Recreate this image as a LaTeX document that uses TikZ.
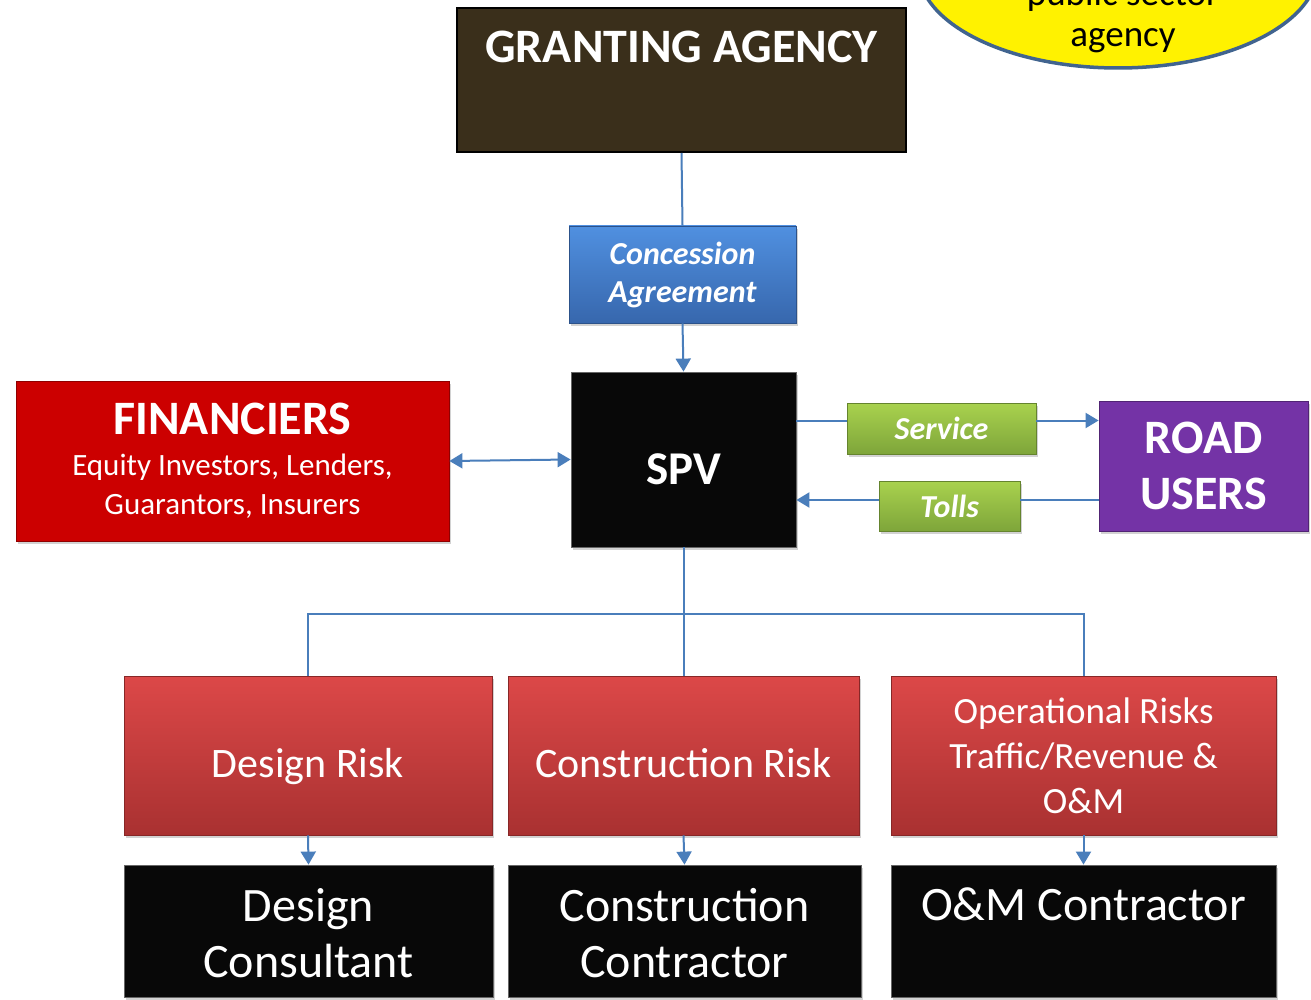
\documentclass[tikz,border=0pt]{standalone}
\usepackage{fontspec}
\setmainfont{Carlito}
\usetikzlibrary{shapes.geometric,arrows.meta,shadows}
\definecolor{gaFill}{HTML}{3A2F1B}
\definecolor{lineBlue}{HTML}{4A7EBB}
\definecolor{caTop}{HTML}{5090E0}
\definecolor{caBot}{HTML}{3767AD}
\definecolor{finRed}{HTML}{CC0000}
\definecolor{ruPurple}{HTML}{7433A6}
\definecolor{grTop}{HTML}{A9D24E}
\definecolor{grBot}{HTML}{7EA53A}
\definecolor{rkTop}{HTML}{DC4848}
\definecolor{rkBot}{HTML}{A93131}
\definecolor{elBorder}{HTML}{41648F}
\tikzset{
  box/.style={rectangle, inner sep=0pt, text=white, align=center,
    drop shadow={opacity=0.35, shadow xshift=2pt, shadow yshift=-3pt}},
  blackbox/.style={box, fill=black!97, draw=black!60, line width=0.8pt},
  riskbox/.style={box, top color=rkTop, bottom color=rkBot, draw=rkBot!80!black, line width=0.6pt,
    font=\fontsize{42}{45}\selectfont},
  greenbox/.style={box, top color=grTop, bottom color=grBot, draw=grBot!80!black, line width=0.6pt,
    font=\fontsize{32}{36}\selectfont\bfseries\itshape},
  conn/.style={draw=lineBlue, line width=2pt},
  arr/.style={conn, -{Triangle[width=15pt,length=13pt]}},
  darr/.style={conn, {Triangle[width=15pt,length=13pt]}-{Triangle[width=15pt,length=13pt]}},
  ctext/.style={font=\fontsize{48}{56}\selectfont}
}
\begin{document}
\begin{tikzpicture}[x=1pt,y=-1pt]
\clip (0,0) rectangle (1311,1000);
\fill[white] (0,0) rectangle (1311,1000);
% public sector ellipse
\node[ellipse, draw=elBorder, line width=3.5pt, fill=yellow, minimum width=400pt, minimum height=200pt] (ps) at (1118,-32) {};
\node[align=center, font=\fontsize{37}{41}\selectfont] (pstext) at (1123,16) {public sector\\agency};
% granting agency
\node[rectangle, fill=gaFill, draw=black, line width=2pt, minimum width=449pt, minimum height=144pt,
  label={[anchor=north, text=white, font=\fontsize{48}{52}\selectfont\bfseries, yshift=-20pt]north:GRANTING AGENCY}] (ga) at (681.5,80) {};
% concession agreement
\node[box, top color=caTop, bottom color=caBot, draw=caBot!80!black, line width=0.6pt,
  minimum width=227pt, minimum height=97pt, font=\fontsize{32}{38}\selectfont\bfseries\itshape] (ca) at (682.5,274.5) {Concession\\Agreement};
% SPV
\node[blackbox, minimum width=225pt, minimum height=175pt, text height=50pt, text depth=0pt,
  font=\fontsize{47}{50}\selectfont\bfseries] (spv) at (683.5,459.5) {SPV};
% financiers
\node[box, fill=finRed, draw=finRed!70!black, line width=0.8pt, minimum width=433pt, minimum height=160pt,
  font=\fontsize{31}{39}\selectfont] (fin) at (232.5,461)
  {{\fontsize{48}{48}\selectfont\bfseries FINANCIERS}\\[2pt]Equity Investors, Lenders,\\Guarantors, Insurers};
% service / tolls
\node[greenbox, minimum width=189pt, minimum height=51pt] (svc) at (941.5,428.5) {Service};
\node[greenbox, minimum width=141pt, minimum height=50pt] (tolls) at (949.5,506) {Tolls};
% road users
\node[box, fill=ruPurple, draw=ruPurple!70!black, line width=0.8pt, minimum width=209pt, minimum height=130pt,
  font=\fontsize{48}{56}\selectfont\bfseries, text depth=0pt] (ru) at (1203.5,466) {ROAD\\USERS};
% risks
\node[riskbox, minimum width=368pt, minimum height=159pt, text height=54pt, text depth=10pt] (dr) at (308,755.5) {Design Risk};
\node[riskbox, minimum width=351pt, minimum height=159pt, text height=54pt, text depth=10pt] (cr) at (683.5,755.5) {Construction Risk};
\node[riskbox, minimum width=385pt, minimum height=159pt, font=\fontsize{37}{45}\selectfont] (or) at (1083.5,755.5) {Operational Risks\\Traffic/Revenue \&\\O\&M};
% contractors
\node[blackbox, minimum width=369pt, minimum height=132pt,
  label={[anchor=north, text=white, align=center, ctext, yshift=-20pt]north:Design\\Consultant}] (dc) at (308.5,931) {};
\node[blackbox, minimum width=353pt, minimum height=132pt,
  label={[anchor=north, text=white, align=center, ctext, yshift=-20pt]north:Construction\\Contractor}] (cc) at (684.5,931) {};
\node[blackbox, minimum width=385pt, minimum height=132pt,
  label={[anchor=north, text=white, align=center, ctext, yshift=-20pt]north:O\&M Contractor}] (oc) at (1083.5,931) {};
% connectors
\draw[conn] (ga.south) -- (ca.north);
\draw[arr] (ca.south) -- (spv.north);
\draw[darr] (fin.east) -- (spv.west);
\draw[conn] ([yshift=8pt]svc.west -| spv.east) -- ([yshift=8pt]svc.west);
\draw[arr] ([yshift=8pt]svc.east) -- ([yshift=8pt]svc.east -| ru.west);
\draw[conn] ([yshift=6pt]tolls.east -| ru.west) -- ([yshift=6pt]tolls.east);
\draw[arr] ([yshift=6pt]tolls.west) -- ([yshift=6pt]tolls.west -| spv.east);
\coordinate (bus) at (0,614);
\draw[conn] (spv.south) -- (cr.north);
\draw[conn] (dr.north) -- (dr.north |- bus) -- (or.north |- bus) -- (or.north);
\draw[arr] (dr.south) -- (dc.north);
\draw[arr] (cr.south) -- (cc.north);
\draw[arr] (or.south) -- (oc.north);
\end{tikzpicture}
\end{document}
